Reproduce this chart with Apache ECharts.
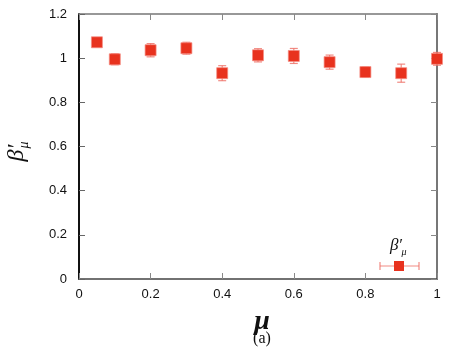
<!DOCTYPE html>
<html>
<head>
<meta charset="utf-8">
<script src="https://cdn.jsdelivr.net/npm/echarts@6/dist/echarts.min.js"></script>
<style>
  html, body { margin: 0; padding: 0; background: #fff; }
  #chart { width: 463px; height: 348px; }
</style>
</head>
<body>
<div id="chart"></div>
<script>
const muValues = [0.05, 0.1, 0.2, 0.3, 0.4, 0.5, 0.6, 0.7, 0.8, 0.9, 1.0];
const betaValues = [1.072, 0.995, 1.036, 1.045, 0.932, 1.013, 1.010, 0.982, 0.937, 0.932, 0.997];
const betaErrors = [0.014, 0.025, 0.03, 0.027, 0.034, 0.03, 0.034, 0.032, 0.023, 0.041, 0.029];

const red = "#e8321e";
const barColor = "rgba(238, 110, 100, 0.8)";

const chart = echarts.init(document.getElementById("chart"));

const points = muValues.map((m, i) => [m, betaValues[i]]);
const bars = muValues.map((m, i) => [m, betaValues[i] - betaErrors[i], betaValues[i] + betaErrors[i]]);

const tickLabel = { fontFamily: "Liberation Sans", fontSize: 13, color: "#111" };
const txt = (x, y, text, font, extra) => ({
  type: "text", x, y,
  style: Object.assign({ text, font, fill: "#111", align: "center", verticalAlign: "middle" }, extra || {}),
});

const option = {
  animation: false,
  backgroundColor: "#fff",
  grid: { left: 79, right: 26, top: 14, bottom: 69, containLabel: false },
  xAxis: [
    {
      type: "value", min: 0, max: 1, interval: 0.2,
      axisLine: { lineStyle: { color: "#444", width: 1.5 } },
      axisTick: { inside: true, length: 6, lineStyle: { color: "#888" } },
      axisLabel: Object.assign({ margin: 9 }, tickLabel),
      splitLine: { show: false },
    },
    {
      type: "value", min: 0, max: 1, interval: 0.2, position: "top",
      axisLine: { onZero: false, lineStyle: { color: "#777", width: 1.5 } },
      axisTick: { inside: true, length: 6, lineStyle: { color: "#888" } },
      axisLabel: { show: false },
      splitLine: { show: false },
    },
  ],
  yAxis: [
    {
      type: "value", min: 0, max: 1.2, interval: 0.2,
      axisLine: { show: true, lineStyle: { color: "#111", width: 2 } },
      axisTick: { show: true, inside: true, length: 6, lineStyle: { color: "#666" } },
      axisLabel: Object.assign({ margin: 12 }, tickLabel),
      splitLine: { show: false },
    },
    {
      type: "value", min: 0, max: 1.2, interval: 0.2, position: "right",
      axisLine: { show: true, onZero: false, lineStyle: { color: "#777", width: 2 } },
      axisTick: { show: true, inside: true, length: 6, lineStyle: { color: "#888" } },
      axisLabel: { show: false },
      splitLine: { show: false },
    },
  ],
  series: [
    {
      type: "custom",
      data: bars,
      z: 2,
      renderItem: (params, api) => {
        const x = api.value(0);
        const lo = api.coord([x, api.value(1)]);
        const hi = api.coord([x, api.value(2)]);
        const cap = 4;
        const style = { stroke: barColor, lineWidth: 1.2 };
        return {
          type: "group",
          children: [
            { type: "line", shape: { x1: lo[0], y1: lo[1], x2: hi[0], y2: hi[1] }, style },
            { type: "line", shape: { x1: lo[0] - cap, y1: lo[1], x2: lo[0] + cap, y2: lo[1] }, style },
            { type: "line", shape: { x1: hi[0] - cap, y1: hi[1], x2: hi[0] + cap, y2: hi[1] }, style },
          ],
        };
      },
    },
    {
      type: "scatter",
      data: points,
      symbol: "rect",
      symbolSize: 11,
      z: 3,
      itemStyle: { color: red, opacity: 1, borderColor: "rgba(245,140,130,0.7)", borderWidth: 1 },
    },
  ],
  graphic: [
    // legend sample
    { type: "line", shape: { x1: 380, y1: 266, x2: 419, y2: 266 }, style: { stroke: barColor, lineWidth: 1.2 } },
    { type: "line", shape: { x1: 380, y1: 262, x2: 380, y2: 270 }, style: { stroke: barColor, lineWidth: 1.2 } },
    { type: "line", shape: { x1: 419, y1: 262, x2: 419, y2: 270 }, style: { stroke: barColor, lineWidth: 1.2 } },
    { type: "rect", shape: { x: 394, y: 261, width: 10, height: 10 }, style: { fill: red } },
    txt(396, 246, "β′", "italic 17px 'Liberation Serif'"),
    txt(404, 252, "μ", "italic 10px 'Liberation Serif'"),
    // y axis name
    {
      type: "group", x: 17, y: 153, rotation: Math.PI / 2,
      children: [
        txt(0, 0, "β′", "italic 24px 'Liberation Serif'"),
        txt(8, 7, "μ", "italic 14px 'Liberation Serif'"),
      ],
    },
    // x axis name
    txt(262, 322, "μ", "bold italic 28px 'Liberation Serif'"),
    txt(262, 339, "(a)", "16px 'Liberation Serif'"),
  ],
};

chart.setOption(option);
</script>
</body>
</html>
